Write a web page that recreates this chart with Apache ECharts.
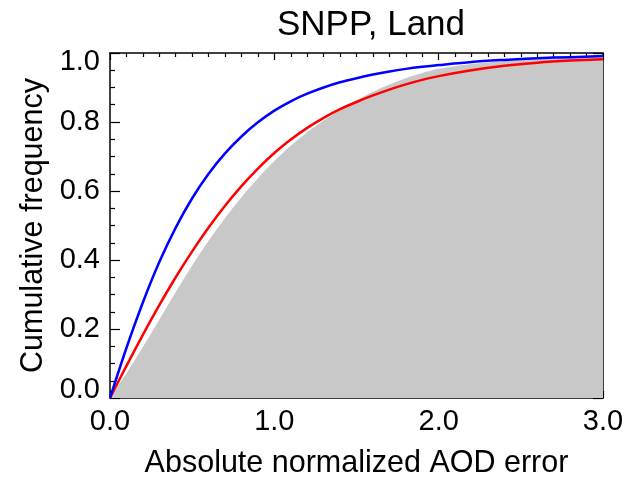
<!DOCTYPE html>
<html>
<head>
<meta charset="utf-8">
<script src="https://cdn.jsdelivr.net/npm/echarts@6/dist/echarts.min.js"></script>
<style>html,body{margin:0;padding:0;background:#fff}#c{width:628px;height:478px}</style>
</head>
<body>
<div id="c"></div>
<script>
// Data
const xValues = [0,0.1,0.2,0.3,0.4,0.5,0.6,0.7,0.8,0.9,1.0,1.1,1.2,1.3,1.4,1.5,1.6,1.7,1.8,1.9,2.0,2.2,2.4,2.6,2.8,3.0];
const blueCdf = [0,0.145,0.277,0.394,0.494,0.579,0.650,0.709,0.758,0.799,0.833,0.860,0.882,0.900,0.915,0.927,0.9375,0.9465,0.954,0.960,0.965,0.974,0.980,0.985,0.988,0.991];
const redCdf  = [0,0.093,0.183,0.269,0.350,0.425,0.494,0.557,0.614,0.665,0.710,0.749,0.783,0.812,0.837,0.858,0.877,0.894,0.909,0.922,0.933,0.950,0.963,0.972,0.978,0.982];
const grayCdf = [0,0.072,0.148,0.227,0.307,0.384,0.456,0.522,0.582,0.637,0.687,0.731,0.770,0.804,0.835,0.863,0.888,0.909,0.927,0.942,0.954,0.968,0.977,0.983,0.988,0.991];
const xTicks = [0.0,1.0,2.0,3.0];
const yTicks = [0.0,0.2,0.4,0.6,0.8,1.0];

const FONT = 'Liberation Sans';
const pair = (ys) => xValues.map((x,i)=>[x,ys[i]]);

const chart = echarts.init(document.getElementById('c'), null, {renderer:'canvas'});
const axisLine = {show:true, onZero:false, lineStyle:{color:'#000', width:1.5}};
function makeX(pos, labels){
  return {
    type:'value', position:pos, min:xTicks[0], max:xTicks[xTicks.length-1], interval:1,
    axisLine:axisLine,
    axisTick:{show:true, inside:true, length:7, lineStyle:{color:'#000', width:1.2}},
    minorTick:{show:true, splitNumber:10, length:4, lineStyle:{color:'#000', width:1.2}},
    splitLine:{show:false},
    axisLabel:{show:labels, color:'#000', fontFamily:FONT, fontSize:29, margin:9,
      formatter:v=>v.toFixed(1)},
    name: labels ? 'Absolute normalized AOD error' : '',
    nameLocation:'middle', nameGap:50,
    nameTextStyle:{color:'#000', fontFamily:FONT, fontSize:30.5}
  };
}
const yMin = yTicks[0], yMax = yTicks[yTicks.length-1];
function makeY(pos, labels){
  const base = {color:'#000', fontFamily:FONT, fontSize:29};
  return {
    type:'value', position:pos, min:yMin, max:yMax, interval:0.2,
    axisLine:axisLine,
    axisTick:{show:true, inside:true, length:10, lineStyle:{color:'#000', width:1.2}},
    minorTick:{show:true, splitNumber:4, length:5, lineStyle:{color:'#000', width:1.2}},
    splitLine:{show:false},
    axisLabel:{show:labels, color:'#000', fontFamily:FONT, fontSize:29, margin:10,
      formatter:v=>{
        const s = v.toFixed(1);
        if (Math.abs(v-yMin)<1e-9) return '{lo|'+s+'}';
        if (Math.abs(v-yMax)<1e-9) return '{hi|'+s+'}';
        return s;
      },
      rich:{
        lo:Object.assign({padding:[0,0,16,0]}, base),
        hi:Object.assign({padding:[18,0,0,0]}, base)
      }},
    name: labels ? 'Cumulative frequency' : '',
    nameLocation:'middle', nameGap:57,
    nameTextStyle:{color:'#000', fontFamily:FONT, fontSize:30.5}
  };
}
chart.setOption({
  animation:false,
  backgroundColor:'#fff',
  title:{text:'SNPP, Land', left:366, textAlign:'center', top:3,
    textStyle:{color:'#000', fontFamily:FONT, fontSize:35, fontWeight:'normal'}},
  grid:{left:110, right:25, top:53, bottom:80, containLabel:false, outerBoundsMode:'none'},
  xAxis:[makeX('bottom', true), makeX('top', false)],
  yAxis:[makeY('left', true), makeY('right', false)],
  series:[
    {type:'line', data:pair(grayCdf), smooth:0.3, symbol:'none', lineStyle:{width:0},
     areaStyle:{color:'#c8c8c8', opacity:1}, z:1},
    {type:'line', data:pair(redCdf), smooth:0.3, symbol:'none', lineStyle:{color:'#ff0000', width:2.5}, z:3},
    {type:'line', data:pair(blueCdf), smooth:0.3, symbol:'none', lineStyle:{color:'#0000ff', width:2.5}, z:3}
  ]
});
</script>
</body>
</html>
